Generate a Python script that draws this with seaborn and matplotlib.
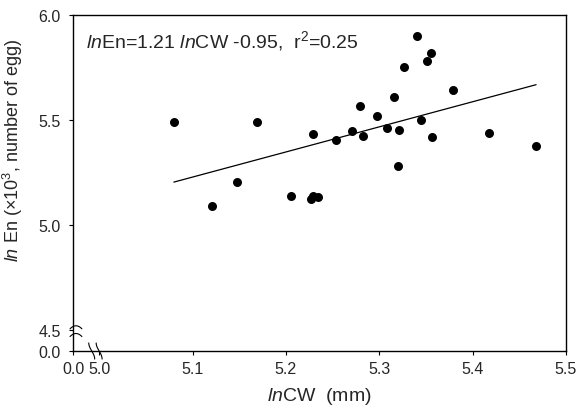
import numpy as np
import pandas as pd
import matplotlib
matplotlib.use("Agg")
import matplotlib.pyplot as plt
import seaborn as sns

sns.set_style("ticks")
plt.rcParams['font.family'] = ['Liberation Sans', 'DejaVu Sans']
plt.rcParams['mathtext.fontset'] = 'custom'
plt.rcParams['mathtext.rm'] = 'Liberation Sans'
plt.rcParams['mathtext.it'] = 'Liberation Sans:italic'

# data
ln_cw = [5.080, 5.121, 5.148, 5.169, 5.205, 5.227, 5.229, 5.234, 5.229,
         5.254, 5.271, 5.279, 5.283, 5.298, 5.308, 5.316, 5.320, 5.321,
         5.326, 5.340, 5.345, 5.351, 5.355, 5.357, 5.379, 5.418, 5.468]
ln_en = [5.492, 5.089, 5.203, 5.489, 5.140, 5.124, 5.140, 5.132, 5.433,
         5.406, 5.449, 5.568, 5.425, 5.517, 5.462, 5.611, 5.283, 5.452,
         5.754, 5.902, 5.502, 5.783, 5.819, 5.421, 5.643, 5.437, 5.378]

# broken axes: the first tick stands for 0.0
x_ticks = [4.972, 5.0, 5.1, 5.2, 5.3, 5.4, 5.5]
x_labels = ["0.0", "5.0", "5.1", "5.2", "5.3", "5.4", "5.5"]
y_ticks = [4.4, 4.5, 5.0, 5.5, 6.0]
y_labels = ["0.0", "4.5", "5.0", "5.5", "6.0"]

df = pd.DataFrame({"lnCW": ln_cw, "lnEn": ln_en})

fig = plt.figure(figsize=(5.78, 4.14), dpi=100)
ax = fig.add_axes([0.1263, 0.1498, 0.8529, 0.8116])

sns.regplot(data=df, x="lnCW", y="lnEn", ci=None, ax=ax,
            scatter_kws=dict(s=42, color="black", linewidths=0, alpha=1),
            line_kws=dict(color="black", lw=0.9))

ax.set_xlim(x_ticks[0], x_ticks[-1])
ax.set_ylim(y_ticks[0], y_ticks[-1])
ax.set_xticks(x_ticks)
ax.set_xticklabels(x_labels)
ax.set_yticks(y_ticks)
ax.set_yticklabels(y_labels)
ax.tick_params(labelsize=11.5, length=3, width=0.8, color="black")
ax.tick_params(axis="y", pad=6)
ax.tick_params(axis="x", pad=4)
for s in ax.spines.values():
    s.set_visible(True)
    s.set_linewidth(1.0)
    s.set_color("black")

ax.set_xlabel(r"$\it{ln}$CW  (mm)", fontsize=14)
ax.set_ylabel(r"$\it{ln}$ En ($\times$10$^3$, number of egg)", fontsize=13)
ax.xaxis.set_label_coords(0.5, -0.1)
ax.yaxis.set_label_coords(-0.097, 0.6)

ax.text(0.026, 0.905, r"$\it{ln}$En=1.21 $\it{ln}$CW -0.95,  r$^2$=0.25",
        transform=ax.transAxes, fontsize=14, va="baseline", ha="left")

# break marks on both axes
t = np.linspace(-1, 1, 30)
for x0 in (0.038, 0.053):
    ax.plot(x0 - 0.006 * np.sin(t * np.pi / 2), 0.024 * t,
            transform=ax.transAxes, color="black", lw=0.8, clip_on=False)
for y0 in (0.066, 0.043):
    ax.plot(0.006 + 0.012 * t, y0 + 0.009 * (1 - t ** 2),
            transform=ax.transAxes, color="black", lw=0.8, clip_on=False)

fig.savefig("out.png", dpi=100)
